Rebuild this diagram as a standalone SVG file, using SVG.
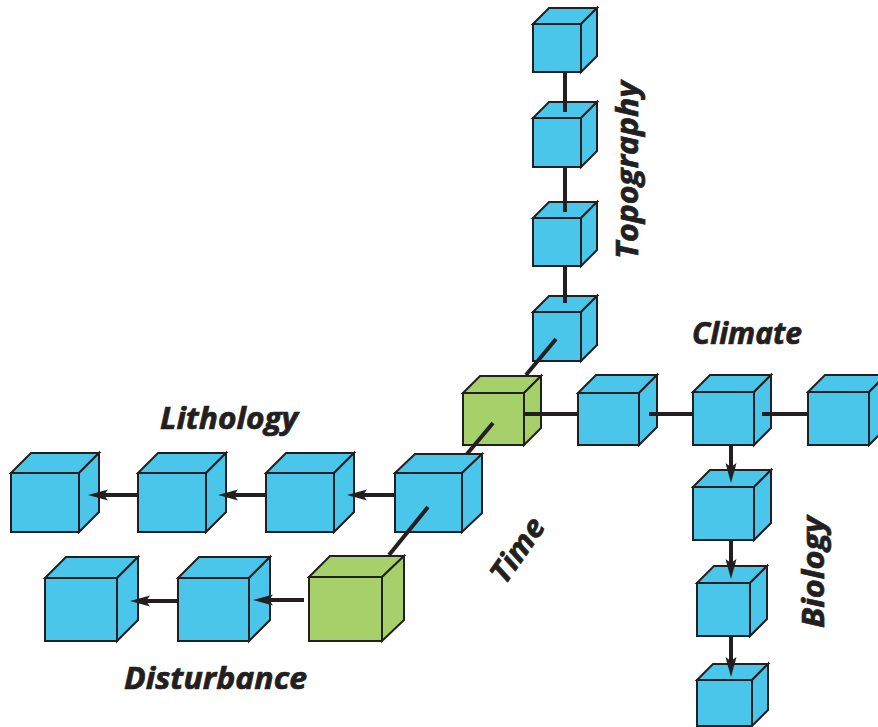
<svg xmlns="http://www.w3.org/2000/svg" width="878" height="727" viewBox="0 0 878 727">
<style>
.c path{stroke:#231F20;stroke-width:2;stroke-linejoin:miter}
.b path{fill:#4BC6EB}
.g path{fill:#A6D06A}
.ln{stroke:#231F20;stroke-width:4;fill:none}
.lbl{font-family:"Open Sans","Liberation Sans",sans-serif;font-weight:700;font-style:italic;font-size:30px;fill:#231F20;stroke:#231F20;stroke-width:0.7}
</style>
<defs>
<marker id="ah" markerUnits="userSpaceOnUse" markerWidth="20" markerHeight="14" viewBox="0 0 20 14" refX="8" refY="7" orient="auto" overflow="visible">
<path d="M20,7 L0,1.5 L4,7 L0,12.5 Z" fill="#231F20"/>
</marker>
</defs>
<rect width="878" height="727" fill="#fff"/>
<!-- Topography -->
<g id="topo1" class="c b"><path d="M533,24 L549,8 L597,8 L581,24 Z"/><path d="M581,24 L597,8 L597,56 L581,72 Z"/><path d="M533,24 H581 V72 H533 Z"/></g>
<g id="topo2" class="c b"><path d="M533,118 L549,102 L597,102 L581,118 Z"/><path d="M581,118 L597,102 L597,151 L581,167 Z"/><path d="M533,118 H581 V167 H533 Z"/></g>
<g id="topo3" class="c b"><path d="M533,218 L549,202 L597,202 L581,218 Z"/><path d="M581,218 L597,202 L597,250 L581,266 Z"/><path d="M533,218 H581 V266 H533 Z"/></g>
<g id="topo4" class="c b"><path d="M533,312 L549,296 L597,296 L581,312 Z"/><path d="M581,312 L597,296 L597,345 L581,361 Z"/><path d="M533,312 H581 V361 H533 Z"/></g>
<!-- Climate -->
<g id="climate1" class="c b"><path d="M578,393 L596,375 L657,375 L639,393 Z"/><path d="M639,393 L657,375 L657,427 L639,445 Z"/><path d="M578,393 H639 V445 H578 Z"/></g>
<g id="climate2" class="c b"><path d="M693,392 L710,375 L771,375 L754,392 Z"/><path d="M754,392 L771,375 L771,428 L754,445 Z"/><path d="M693,392 H754 V445 H693 Z"/></g>
<g id="climate3" class="c b"><path d="M808,392 L825,375 L886,375 L869,392 Z"/><path d="M869,392 L886,375 L886,428 L869,445 Z"/><path d="M808,392 H869 V445 H808 Z"/></g>
<!-- Biology -->
<g id="bio1" class="c b"><path d="M693,487 L710,470 L771,470 L754,487 Z"/><path d="M754,487 L771,470 L771,523 L754,540 Z"/><path d="M693,487 H754 V540 H693 Z"/></g>
<g id="bio2" class="c b"><path d="M697,583 L714,566 L767,566 L750,583 Z"/><path d="M750,583 L767,566 L767,619 L750,636 Z"/><path d="M697,583 H750 V636 H697 Z"/></g>
<g id="bio3" class="c b"><path d="M697,680 L713,664 L768,664 L752,680 Z"/><path d="M752,680 L768,664 L768,710 L752,726 Z"/><path d="M697,680 H752 V726 H697 Z"/></g>
<!-- Lithology -->
<g id="lith1" class="c b"><path d="M11,473 L31,453 L99,453 L79,473 Z"/><path d="M79,473 L99,453 L99,512 L79,532 Z"/><path d="M11,473 H79 V532 H11 Z"/></g>
<g id="lith2" class="c b"><path d="M138,473 L158,453 L226,453 L206,473 Z"/><path d="M206,473 L226,453 L226,512 L206,532 Z"/><path d="M138,473 H206 V532 H138 Z"/></g>
<g id="lith3" class="c b"><path d="M266,473 L286,453 L354,453 L334,473 Z"/><path d="M334,473 L354,453 L354,512 L334,532 Z"/><path d="M266,473 H334 V532 H266 Z"/></g>
<g id="lith4" class="c b"><path d="M395,473 L415,454 L482,454 L462,473 Z"/><path d="M462,473 L482,454 L482,513 L462,532 Z"/><path d="M395,473 H462 V532 H395 Z"/></g>
<!-- Disturbance -->
<g id="dist1" class="c b"><path d="M45,578 L66,557 L138,557 L117,578 Z"/><path d="M117,578 L138,557 L138,620 L117,641 Z"/><path d="M45,578 H117 V641 H45 Z"/></g>
<g id="dist2" class="c b"><path d="M178,578 L199,557 L270,557 L249,578 Z"/><path d="M249,578 L270,557 L270,620 L249,641 Z"/><path d="M178,578 H249 V641 H178 Z"/></g>
<!-- Green cubes -->
<g id="center" class="c g"><path d="M463,393 L480,376 L541,376 L524,393 Z"/><path d="M524,393 L541,376 L541,428 L524,445 Z"/><path d="M463,393 H524 V445 H463 Z"/></g>
<g id="origin" class="c g"><path d="M309,577 L330,556 L404,556 L382,577 Z"/><path d="M382,577 L404,556 L404,620 L382,641 Z"/><path d="M309,577 H382 V641 H309 Z"/></g>
<g id="connectors">
<!-- topography -->
<line class="ln" x1="565" y1="72" x2="565" y2="112"/>
<line class="ln" x1="565" y1="167" x2="565" y2="212"/>
<line class="ln" x1="565" y1="266" x2="565" y2="303"/>
<!-- time -->
<line class="ln" x1="556" y1="339" x2="526" y2="375"/>
<line class="ln" x1="493" y1="423" x2="467" y2="454"/>
<line class="ln" x1="428" y1="507" x2="389" y2="555"/>
<!-- climate -->
<line class="ln" x1="524" y1="414" x2="578" y2="414"/>
<line class="ln" x1="649" y1="414" x2="693" y2="414"/>
<line class="ln" x1="762" y1="414" x2="808" y2="414"/>
<!-- biology -->
<line class="ln" x1="731" y1="445" x2="731" y2="471" marker-end="url(#ah)"/>
<line class="ln" x1="731" y1="540" x2="731" y2="567" marker-end="url(#ah)"/>
<line class="ln" x1="731" y1="636" x2="731" y2="665" marker-end="url(#ah)"/>
<!-- lithology -->
<line class="ln" x1="138" y1="495" x2="100" y2="495" marker-end="url(#ah)"/>
<line class="ln" x1="266" y1="495" x2="230" y2="495" marker-end="url(#ah)"/>
<line class="ln" x1="395" y1="495" x2="359" y2="495" marker-end="url(#ah)"/>
<!-- disturbance -->
<line class="ln" x1="178" y1="601" x2="142" y2="601" marker-end="url(#ah)"/>
<line class="ln" x1="304" y1="600" x2="265" y2="600" marker-end="url(#ah)"/>
</g>
<g id="labels">
<text class="lbl" x="692" y="344" textLength="110" lengthAdjust="spacingAndGlyphs">Climate</text>
<text class="lbl" x="160" y="429" textLength="138" lengthAdjust="spacingAndGlyphs">Lithology</text>
<text class="lbl" x="124" y="689" textLength="183" lengthAdjust="spacingAndGlyphs">Disturbance</text>
<text class="lbl" x="638" y="170" text-anchor="middle" transform="rotate(-90 638 170)" textLength="178" lengthAdjust="spacingAndGlyphs">Topography</text>
<text class="lbl" x="824" y="572" text-anchor="middle" transform="rotate(-90 824 572)" textLength="112" lengthAdjust="spacingAndGlyphs">Biology</text>
<text class="lbl" x="526" y="556" text-anchor="middle" transform="rotate(-55 526 556)" textLength="72" lengthAdjust="spacingAndGlyphs">Time</text>
</g>
</svg>
